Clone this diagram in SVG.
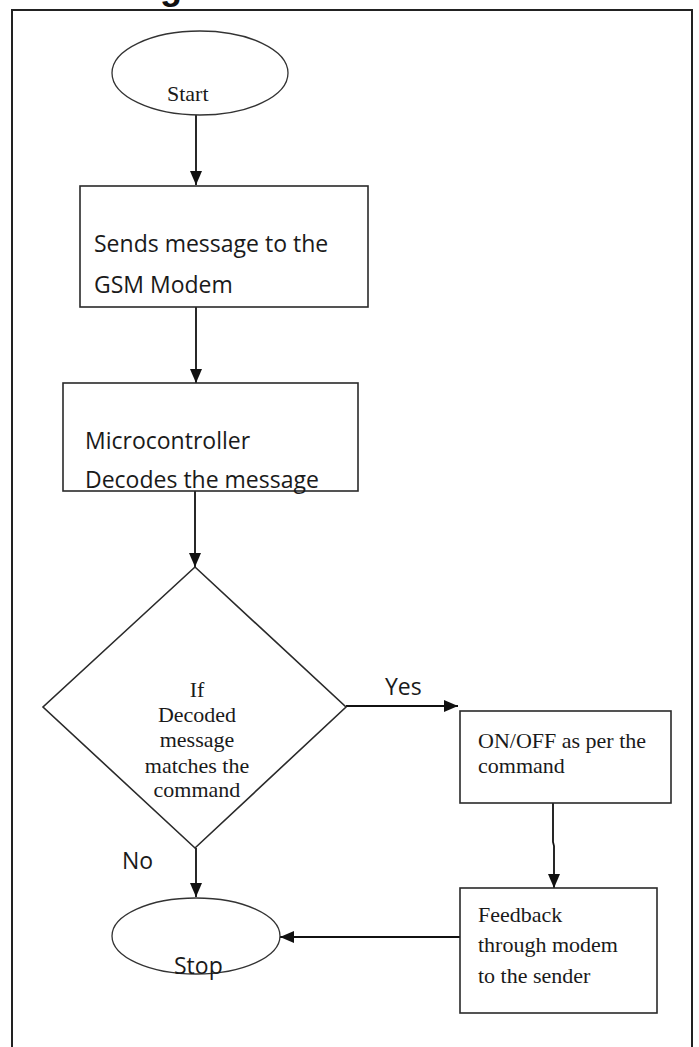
<svg xmlns="http://www.w3.org/2000/svg" width="699" height="1047" viewBox="0 0 699 1047">
<style>
.shape{fill:#fff;stroke:#2a2a2a;stroke-width:1.6}
.thin{fill:#fff;stroke:#333;stroke-width:1.3}
.conn{fill:none;stroke:#111;stroke-width:1.8}
.serif{font-family:"Liberation Serif","Times New Roman",serif;font-size:22px;fill:#1a1a1a}
.sans{font-family:"Open Sans","Noto Sans",sans-serif;font-size:23px;fill:#1a1a1a}
</style>
<defs>
<marker id="ah" viewBox="0 0 14 12" refX="14" refY="6" markerWidth="14" markerHeight="12" markerUnits="userSpaceOnUse" orient="auto">
<path d="M0,0 L14,6 L0,12 z" fill="#111"/>
</marker>
</defs>
<rect width="699" height="1047" fill="#fff"/>
<text x="160" y="-1" font-family="Liberation Sans,Arial,sans-serif" font-weight="bold" font-size="36" fill="#111">g</text>
<path d="M12,1060 L12,10 L692,10 L692,1060" fill="none" stroke="#222" stroke-width="2"/>

<g id="connectors">
<line class="conn" x1="196" y1="115" x2="196" y2="185" marker-end="url(#ah)"/>
<line class="conn" x1="196" y1="307" x2="196" y2="383" marker-end="url(#ah)"/>
<line class="conn" x1="195" y1="491" x2="195" y2="567" marker-end="url(#ah)"/>
<line class="conn" x1="346" y1="706" x2="458" y2="706" marker-end="url(#ah)"/>
<polyline class="conn" points="553,803 553,842 554,846 554,888" marker-end="url(#ah)"/>
<line class="conn" x1="196" y1="848" x2="196" y2="897" marker-end="url(#ah)"/>
<line class="conn" x1="460" y1="937" x2="280" y2="937" stroke-width="2.2" marker-end="url(#ah)"/>
<text class="sans" x="385" y="695" font-size="22">Yes</text>
<text class="sans" x="122" y="869" font-size="22">No</text>
</g>

<g id="start">
<ellipse class="thin" cx="200" cy="73" rx="88" ry="42"/>
<text class="serif" x="167" y="101" font-size="20">Start</text>
</g>

<g id="send">
<rect class="shape" x="80" y="186" width="288" height="121"/>
<text class="sans" x="94" y="252">Sends message to the</text>
<text class="sans" x="94" y="293">GSM Modem</text>
</g>

<g id="decode">
<rect class="shape" x="63" y="383" width="295" height="108"/>
<text class="sans" x="85" y="449">Microcontroller</text>
<text class="sans" x="85" y="488">Decodes the message</text>
</g>

<g id="decision">
<polygon class="shape" points="195,567 346,707 195,848 43,707"/>
<g class="serif" font-size="21.5" text-anchor="middle">
<text x="197" y="697">If</text>
<text x="197" y="722">Decoded</text>
<text x="197" y="747">message</text>
<text x="197" y="773">matches the</text>
<text x="197" y="797">command</text>
</g>
</g>

<g id="onoff">
<rect class="shape" x="460" y="711" width="211" height="92" stroke-width="2"/>
<text class="serif" x="478" y="748">ON/OFF as per the</text>
<text class="serif" x="478" y="773">command</text>
</g>

<g id="feedback">
<rect class="shape" x="460" y="888" width="197" height="125" stroke-width="2"/>
<text class="serif" x="478" y="922">Feedback</text>
<text class="serif" x="478" y="952">through modem</text>
<text class="serif" x="478" y="983">to the sender</text>
</g>

<g id="stop">
<ellipse class="thin" cx="196" cy="936" rx="84" ry="38"/>
<text class="sans" x="174" y="974">Stop</text>
</g>
</svg>
